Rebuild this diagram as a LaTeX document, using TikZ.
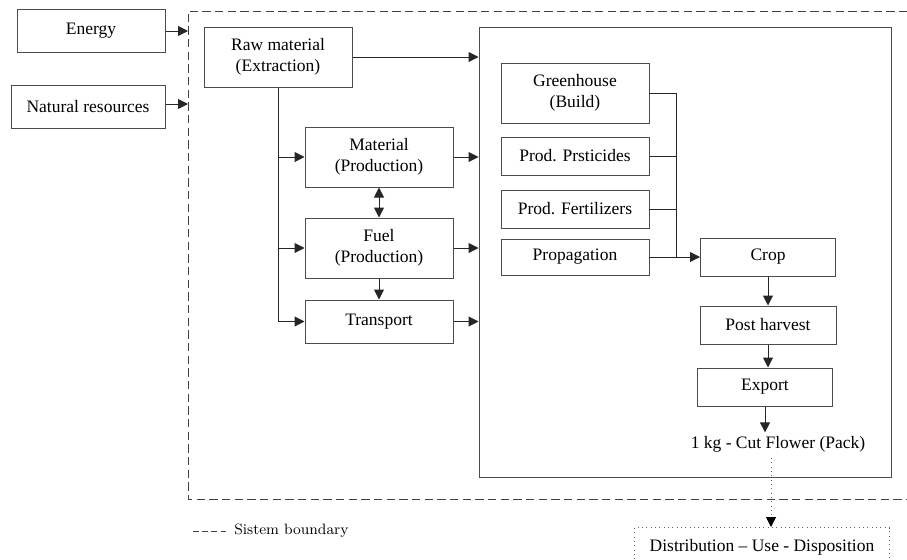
\documentclass[tikz,border=0pt]{standalone}
\usepackage{fontspec}
\newfontfamily\serifT{Liberation Serif}
\usetikzlibrary{positioning,shapes,fit,arrows,arrows.meta,calc}

\begin{document}
\begin{tikzpicture}
  [
      x=0.6pt, y=-0.6pt, >={Triangle[length=6pt,width=6pt]},
      stage/.style={rectangle, draw=black!70, line width=0.6pt, minimum width=88.8pt, minimum height=36pt, align=center, inner sep=2pt, font=\serifT\fontsize{10.5}{12.3}\selectfont},
      low/.style={stage, minimum height=22.8pt},
      flow/.style={->, line width=0.6pt, draw=black!85},
      wire/.style={line width=0.6pt, draw=black!85},
    ]
    \useasboundingbox (0,0) rectangle (907,559);

    \node (energy) [low, minimum height=25.8pt] at (91,31) {Energy};
    \node (natres) [low, minimum width=92.4pt, minimum height=25.8pt] at (88,107) {Natural resources};

    \draw [dashed, dash pattern=on 5pt off 2.6pt, draw=black!75, line width=0.6pt] (920,11) -- (188,11) -- (188,499) -- (920,499);
    \coordinate (eIn) at (188,31);
    \coordinate (nIn) at (188,104);
    \draw [flow] (energy.east) -- (eIn);
    \draw [flow] (natres.east |- nIn) -- (nIn);

    \node (raw) [stage] at (278,57) {Raw material\\(Extraction)};
    \node (mat) [stage] at (379,157) {Material\\(Production)};
    \node (fuel) [stage, below=18pt of mat] {Fuel\\(Production)};
    \node (trans) [low, minimum height=25.8pt, below=12.6pt of fuel] {Transport};

    \node (farm) [rectangle, draw=black!70, line width=0.6pt, minimum width=247.2pt, minimum height=270pt] at (685,252) {};

    \draw [flow] (raw.south) |- (trans.west);
    \draw [flow] (raw.south |- mat.west) -- (mat.west);
    \draw [flow] (raw.south |- fuel.west) -- (fuel.west);
    \draw [flow, <->] (mat) -- (fuel);
    \draw [flow] (fuel) -- (trans);
    \draw [flow] (raw.east) -- (raw.east -| farm.west);
    \draw [flow] (mat.east) -- (mat.east -| farm.west);
    \draw [flow] (fuel.east) -- (fuel.east -| farm.west);
    \draw [flow] (trans.east) -- (trans.east -| farm.west);

    \node (green) [stage] at (575,93) {Greenhouse\\(Build)};
    \node (pest) [low] at (575,156) {Prod. Prsticides};
    \node (fert) [low] at (575,209) {Prod. Fertilizers};
    \node (prop) [low, minimum height=21.6pt] at (575,257) {Propagation};

    \node (crop) [low, minimum width=81pt] at (768,257) {Crop};
    \node (post) [low, minimum width=81.6pt, below=17.4pt of crop] {Post harvest};
    \node (export) [low, minimum width=81pt] at (765,387) {Export};
    \node (pack) [font=\serifT\fontsize{10.5}{12.3}\selectfont, inner sep=2pt] at (778,444) {1 kg - Cut Flower (Pack)};

    \coordinate (join) at (676,257);
    \draw [wire] (green.east) -| (join);
    \draw [wire] (pest.east) -- (pest.east -| join);
    \draw [wire] (fert.east) -- (fert.east -| join);
    \draw [flow] (prop.east) -- (crop.west);
    \draw [flow] (crop) -- (post);
    \draw [flow] (post.south) -- (post.south |- export.north);
    \draw [flow] (export.south) -- (export.south |- pack.north);

    \node (dist) [low, dotted, draw=black!60, minimum width=153pt, minimum height=24pt, anchor=north] at (762,527) {Distribution – Use - Disposition};
    \coordinate (drop) at (771,458);
    \draw [line width=0.6pt, draw=black!60, dotted, -{Triangle[length=6pt,width=6pt,color=black]}] (drop) -- (drop |- dist.north);

    \draw [dashed, dash pattern=on 3.5pt off 2pt, draw=black!75, line width=0.6pt] (193,531) -- (226,531);
    \node (legend) [anchor=west, font=\fontsize{9}{11}\selectfont, inner sep=0pt] at (234,531) {Sistem boundary};

  \end{tikzpicture}
\end{document}
